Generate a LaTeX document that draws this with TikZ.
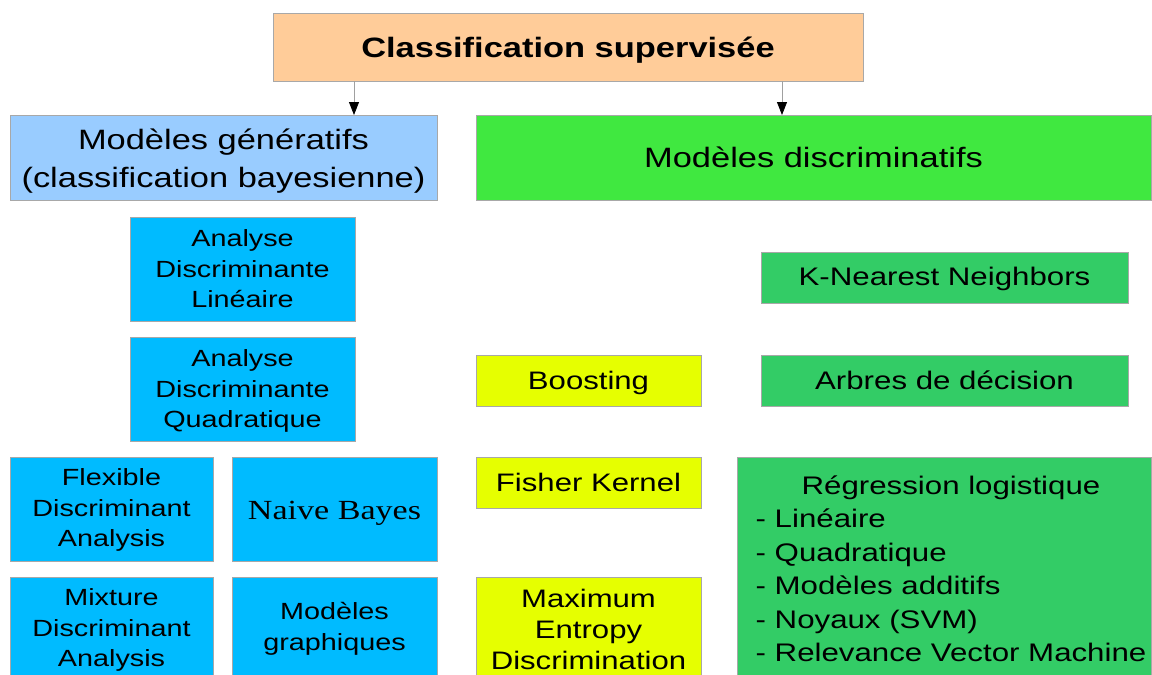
\documentclass[tikz,border=0pt]{standalone}
\usepackage{fontspec}
\setmainfont[FakeStretch=1.23]{Liberation Sans}
\newfontfamily\widesserif[FakeStretch=1.23]{Liberation Serif}
\usetikzlibrary{arrows.meta}

\definecolor{peach}{HTML}{FFCC99}
\definecolor{paleblue}{HTML}{99CCFF}
\definecolor{skyblue}{HTML}{00BBFF}
\definecolor{brightgreen}{HTML}{40E840}
\definecolor{midgreen}{HTML}{33CC66}
\definecolor{lemon}{HTML}{E6FF00}
\definecolor{boxedge}{HTML}{A8A8A8}
\definecolor{stem}{HTML}{A0A0A0}

% lower a label by #1 without changing the size it reports
\newcommand\dropby[2]{\raisebox{-#1}[\height][\depth]{#2}}
% centred stack of lines
\newcommand\lines[1]{\begin{tabular}{@{}c@{}}#1\end{tabular}}

\tikzset{
  box/.style={rectangle, draw=boxedge, line width=0.8pt, anchor=north west,
    align=center, inner sep=0pt, outer sep=0pt, text=black,
    font=\fontsize{23.4}{30.5}\selectfont},
  titlebox/.style={box, fill=peach, font=\fontsize{28}{32}\selectfont\bfseries},
  familybox/.style={box, font=\fontsize{28}{38}\selectfont},
  bluebox/.style={box, fill=skyblue},
  yellowbox/.style={box, fill=lemon, font=\fontsize{25.3}{31}\selectfont},
  greenbox/.style={box, fill=midgreen, font=\fontsize{25.4}{33.5}\selectfont},
  arr/.style={draw=stem, line width=0.8pt,
    -{Triangle[length=13pt, width=10pt, color=black]}},
}

\begin{document}
\begin{tikzpicture}[x=1pt, y=-1pt]
  \useasboundingbox (0,0) rectangle (1152,675);
  \clip (0,0) rectangle (1152,675);
  \fill[white] (0,0) rectangle (1152,675);

  % root
  \node[titlebox, minimum width=590, minimum height=68] (root) at (273,13)
    {\dropby{3pt}{Classification supervisée}};

  % the two families
  \node[familybox, fill=paleblue, minimum width=427, minimum height=85] (gen) at (10,115)
    {\dropby{3pt}{\lines{Modèles génératifs\\(classification bayesienne)}}};
  \node[familybox, fill=brightgreen, minimum width=675, minimum height=85] (disc) at (476,115)
    {Modèles discriminatifs};

  % generative models
  \node[bluebox, minimum width=225, minimum height=104] (adl) at (130,217)
    {Analyse\\Discriminante\\Linéaire};
  \node[bluebox, minimum width=225, minimum height=104] (adq) at (130,337)
    {\dropby{2pt}{\lines{Analyse\\Discriminante\\Quadratique}}};
  \node[bluebox, minimum width=203, minimum height=104] (fda) at (10,457)
    {\dropby{1pt}{\lines{Flexible\\Discriminant\\Analysis}}};
  \node[bluebox, minimum width=205, minimum height=104,
        font=\widesserif\fontsize{27.7}{30}\selectfont] (nb) at (232,457)
    {\dropby{4pt}{Naive Bayes}};
  \node[bluebox, minimum width=203, minimum height=104] (mda) at (10,577)
    {\dropby{1pt}{\lines{Mixture\\Discriminant\\Analysis}}};
  \node[bluebox, minimum width=205, minimum height=104] (mg) at (232,577)
    {Modèles\\graphiques};

  % hybrid methods
  \node[yellowbox, minimum width=225, minimum height=51] (boost) at (476,355)
    {\dropby{2pt}{Boosting}};
  \node[yellowbox, minimum width=225, minimum height=51] (fisher) at (476,457)
    {Fisher Kernel};
  \node[yellowbox, minimum width=225, minimum height=104] (maxent) at (476,577)
    {Maximum\\Entropy\\Discrimination};

  % discriminative models
  \node[greenbox, minimum width=367, minimum height=51] (knn) at (761,252)
    {\dropby{1pt}{K-Nearest Neighbors}};
  \node[greenbox, minimum width=367, minimum height=51] (trees) at (761,355)
    {Arbres de décision};
  \node[greenbox, minimum width=414, minimum height=223] (logit) at (737,457)
    {\dropby{3pt}{\begin{tabular}{@{\hspace{14pt}}l@{}}
       \multicolumn{1}{@{\hspace{14pt}}c@{}}{Régression logistique}\\
       - Linéaire\\
       - Quadratique\\
       - Modèles additifs\\
       - Noyaux (SVM)\\
       - Relevance Vector Machine
     \end{tabular}}};

  % links from the root
  \draw[arr] ([xshift=81pt]root.south west) -- ([xshift=81pt]root.south west |- gen.north);
  \draw[arr] ([xshift=-81pt]root.south east) -- ([xshift=-81pt]root.south east |- disc.north);
\end{tikzpicture}
\end{document}
